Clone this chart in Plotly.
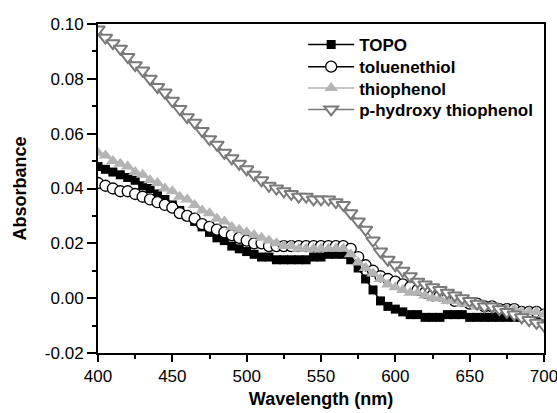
import plotly.graph_objects as go

wavelength = list(range(400, 701, 5))

topo = [0.048, 0.047, 0.046, 0.045, 0.044, 0.043, 0.041, 0.040, 0.038, 0.036,
        0.034, 0.032, 0.030, 0.028, 0.026, 0.024, 0.022, 0.021, 0.019, 0.018,
        0.017, 0.016, 0.015, 0.015, 0.014, 0.014, 0.014, 0.014, 0.014, 0.015,
        0.015, 0.016, 0.016, 0.016, 0.014, 0.011, 0.007, 0.003, -0.001, -0.003,
        -0.004, -0.005, -0.006, -0.006, -0.007, -0.007, -0.007, -0.006, -0.006, -0.006,
        -0.007, -0.007, -0.007, -0.007, -0.007, -0.007, -0.007, -0.007, -0.007, -0.007,
        -0.007]

toluenethiol = [0.042, 0.041, 0.040, 0.039, 0.039, 0.038, 0.037, 0.036, 0.035, 0.034,
                0.033, 0.031, 0.030, 0.029, 0.027, 0.026, 0.025, 0.024, 0.023, 0.022,
                0.021, 0.020, 0.020, 0.019, 0.019, 0.019, 0.019, 0.019, 0.019, 0.019,
                0.019, 0.019, 0.019, 0.019, 0.018, 0.015, 0.012, 0.010, 0.008, 0.007,
                0.006, 0.005, 0.004, 0.003, 0.002, 0.001, 0.001, 0.000, -0.001, -0.001,
                -0.002, -0.002, -0.003, -0.003, -0.004, -0.004, -0.004, -0.005, -0.005, -0.005,
                -0.006]

thiophenol = [0.053, 0.052, 0.050, 0.049, 0.048, 0.046, 0.045, 0.043, 0.042, 0.040,
              0.039, 0.037, 0.036, 0.034, 0.032, 0.031, 0.029, 0.028, 0.026, 0.025,
              0.024, 0.023, 0.022, 0.021, 0.020, 0.019, 0.019, 0.018, 0.018, 0.018,
              0.018, 0.018, 0.018, 0.018, 0.016, 0.013, 0.011, 0.009, 0.007, 0.005,
              0.004, 0.003, 0.002, 0.002, 0.001, 0.000, 0.000, -0.001, -0.001, -0.002,
              -0.002, -0.003, -0.003, -0.003, -0.004, -0.004, -0.004, -0.005, -0.005, -0.005,
              -0.006]

p_hydroxy = [0.098, 0.095, 0.093, 0.091, 0.088, 0.085, 0.083, 0.080, 0.077, 0.075,
             0.072, 0.069, 0.066, 0.064, 0.061, 0.058, 0.056, 0.053, 0.051, 0.049,
             0.047, 0.045, 0.043, 0.041, 0.040, 0.039, 0.038, 0.037, 0.037, 0.036,
             0.036, 0.036, 0.035, 0.034, 0.031, 0.028, 0.025, 0.021, 0.017, 0.014,
             0.012, 0.010, 0.008, 0.006, 0.005, 0.004, 0.003, 0.002, 0.001, 0.000,
             -0.001, -0.002, -0.003, -0.003, -0.004, -0.005, -0.006, -0.007, -0.008, -0.009,
             -0.010]

x_ticks = [400, 450, 500, 550, 600, 650, 700]
y_ticks = [-0.02, 0.00, 0.02, 0.04, 0.06, 0.08, 0.10]

font_family = "Liberation Sans, Arial, sans-serif"

fig = go.Figure()
fig.add_trace(go.Scatter(
    x=wavelength, y=topo, name="TOPO", mode="lines+markers", legend="legend",
    line=dict(color="black", width=1.5),
    marker=dict(symbol="square", size=9, color="black", line=dict(width=0)),
))
fig.add_trace(go.Scatter(
    x=wavelength, y=toluenethiol, name="toluenethiol", mode="lines+markers", legend="legend2",
    line=dict(color="black", width=1.5),
    marker=dict(symbol="circle", size=11, color="white", line=dict(color="black", width=1.3)),
))
fig.add_trace(go.Scatter(
    x=wavelength, y=thiophenol, name="thiophenol", mode="lines+markers", legend="legend3",
    line=dict(color="#b4b4b4", width=1.5),
    marker=dict(symbol="triangle-up", size=12, color="#b4b4b4", line=dict(width=0)),
))
fig.add_trace(go.Scatter(
    x=wavelength, y=p_hydroxy, name="p-hydroxy thiophenol", mode="lines+markers", legend="legend4",
    line=dict(color="#7a7a7a", width=1.5),
    marker=dict(symbol="triangle-down", size=12, color="white", line=dict(color="#7a7a7a", width=2)),
))

legend_style = dict(
    x=0.46, xanchor="left", yanchor="middle",
    bgcolor="rgba(0,0,0,0)", borderwidth=0,
    font=dict(family=font_family, size=17, color="black", weight="bold"),
    itemwidth=46,
)

fig.update_layout(
    width=557, height=413,
    margin=dict(l=98, r=13, t=24, b=60, autoexpand=False),
    paper_bgcolor="white", plot_bgcolor="white",
    font=dict(family=font_family, size=17, color="black"),
    showlegend=True,
    legend=dict(y=0.936, **legend_style),
    legend2=dict(y=0.869, **legend_style),
    legend3=dict(y=0.804, **legend_style),
    legend4=dict(y=0.739, **legend_style),
)

fig.update_xaxes(
    range=[400, 700], tickvals=x_ticks, ticktext=[str(v) for v in x_ticks],
    showline=True, linecolor="black", linewidth=2, mirror=True,
    ticks="outside", ticklen=7, tickwidth=2, tickcolor="black",
    minor=dict(dtick=25, ticks="outside", ticklen=4, tickwidth=2, tickcolor="black"),
    showgrid=False, zeroline=False, ticklabeloverflow="allow", automargin=False,
    tickfont=dict(size=17),
    title=dict(text="Wavelength (nm)", font=dict(size=18, weight="bold"), standoff=7),
)
fig.update_yaxes(
    range=[-0.02, 0.10], tickvals=y_ticks, ticktext=[f"{v:.2f}" for v in y_ticks],
    showline=True, linecolor="black", linewidth=2, mirror=True,
    ticks="outside", ticklen=9, tickwidth=2, tickcolor="black",
    minor=dict(dtick=0.01, ticks="outside", ticklen=4, tickwidth=2, tickcolor="black"),
    showgrid=False, zeroline=False, ticklabeloverflow="allow", automargin=False,
    tickfont=dict(size=17),
    title=dict(text="Absorbance", font=dict(size=18, weight="bold"), standoff=14),
)

fig.write_html("out.html", config={"displayModeBar": False},
               post_script="document.body.style.margin='0px';")
